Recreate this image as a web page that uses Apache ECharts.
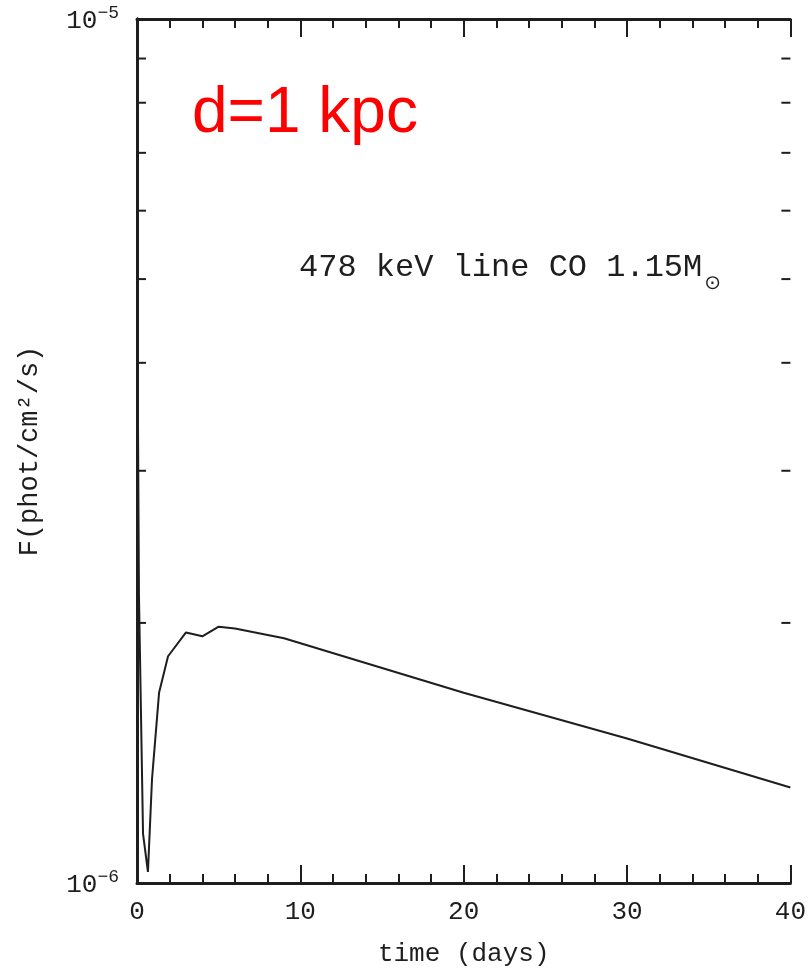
<!DOCTYPE html>
<html>
<head>
<meta charset="utf-8">
<script src="https://cdn.jsdelivr.net/npm/echarts@6/dist/echarts.min.js"></script>
<style>
  html, body { margin: 0; padding: 0; background: #fff; }
  #chart { width: 809px; height: 972px; }
</style>
</head>
<body>
<div id="chart"></div>
<script>
// light curve
const times = [0.02, 0.05, 0.12, 0.37, 0.67, 0.92, 1.35, 1.9, 3, 4, 5, 6, 9, 20, 30, 40];
const flux = [7.7e-6, 3.7e-6, 2.15e-6, 1.14e-6, 1.03e-6, 1.32e-6, 1.66e-6, 1.83e-6,
  1.95e-6, 1.93e-6, 1.98e-6, 1.97e-6, 1.92e-6, 1.66e-6, 1.47e-6, 1.29e-6];

// axes
const xMin = 0, xMax = 40, xStep = 10;
const yMin = 1e-6, yMax = 1e-5;
const yMinorTicks = [2e-6, 3e-6, 4e-6, 5e-6, 6e-6, 7e-6, 8e-6, 9e-6];

const ink = "#1e1e1e";
const font = "Liberation Mono";

const chart = echarts.init(document.getElementById("chart"), null, { renderer: "canvas" });

const lineData = times.map((t, i) => [t, flux[i]]);

const xCommon = {
  type: "value",
  min: xMin,
  max: xMax,
  interval: xStep,
  axisLine: { show: true, lineStyle: { color: ink, width: 3 } },
  axisTick: { show: true, inside: true, length: 18, lineStyle: { color: ink, width: 2 } },
  minorTick: { show: true, splitNumber: 5, length: 9, lineStyle: { color: ink, width: 2 } },
  splitLine: { show: false },
  minorSplitLine: { show: false }
};

const yCommon = {
  type: "log",
  logBase: 10,
  min: yMin,
  max: yMax,
  axisLine: { show: true, lineStyle: { color: ink, width: 3 } },
  axisTick: { show: false },
  splitLine: { show: false }
};

chart.setOption({
  backgroundColor: "#fff",
  animation: false,
  grid: { left: 137, right: 18, top: 19, bottom: 89 },
  xAxis: [
    Object.assign({}, xCommon, {
      position: "bottom",
      name: "time (days)",
      nameLocation: "middle",
      nameGap: 58,
      nameTextStyle: { color: ink, fontFamily: font, fontSize: 26 },
      axisLabel: {
        color: ink,
        fontFamily: font,
        fontSize: 26,
        margin: 16
      }
    }),
    Object.assign({}, xCommon, {
      position: "top",
      axisLabel: { show: false }
    })
  ],
  yAxis: [
    Object.assign({}, yCommon, {
      position: "left",
      name: "F(phot/cm²/s)",
      nameLocation: "middle",
      nameGap: 94,
      nameTextStyle: { color: ink, fontFamily: font, fontSize: 27 },
      axisLabel: {
        margin: 18,
        formatter: function (v) {
          const e = Math.round(Math.log10(v));
          return "{m|10}{e|−" + Math.abs(e) + "}";
        },
        rich: {
          m: { color: ink, fontFamily: font, fontSize: 26, lineHeight: 30, verticalAlign: "bottom" },
          e: { color: ink, fontFamily: font, fontSize: 18, lineHeight: 30, verticalAlign: "top" }
        }
      }
    }),
    Object.assign({}, yCommon, {
      position: "right",
      axisLabel: { show: false }
    })
  ],
  graphic: [
    {
      type: "text",
      left: 192,
      top: 82,
      style: {
        text: "d=1 kpc",
        fill: "#ff0000",
        font: "64px 'Liberation Sans', Arial, sans-serif"
      }
    },
    {
      type: "text",
      left: 299,
      top: 252,
      style: {
        text: "{a|478 keV line CO 1.15M}{s|⊙}",
        rich: {
          a: { fill: ink, fontFamily: font, fontSize: 32, lineHeight: 40, verticalAlign: "top" },
          s: { fill: ink, fontFamily: "DejaVu Sans", fontSize: 20, lineHeight: 20, verticalAlign: "top", padding: [22, 0, 0, 2] }
        }
      }
    }
  ],
  series: [
    {
      name: "478 keV",
      type: "line",
      xAxisIndex: 0,
      yAxisIndex: 0,
      data: lineData,
      showSymbol: false,
      symbol: "none",
      smooth: false,
      lineStyle: { color: ink, width: 2 },
      z: 3
    },
    {
      // minor log ticks on the left and right frame
      type: "custom",
      xAxisIndex: 0,
      yAxisIndex: 0,
      silent: true,
      z: 4,
      data: yMinorTicks.map(v => [xMin, v]),
      renderItem: function (params, api) {
        const v = api.value(1);
        const l = api.coord([xMin, v]);
        const r = api.coord([xMax, v]);
        const st = { stroke: ink, lineWidth: 2 };
        return {
          type: "group",
          children: [
            { type: "line", shape: { x1: l[0], y1: l[1], x2: l[0] + 9, y2: l[1] }, style: st },
            { type: "line", shape: { x1: r[0], y1: r[1], x2: r[0] - 9, y2: r[1] }, style: st }
          ]
        };
      }
    }
  ]
});
</script>
</body>
</html>
